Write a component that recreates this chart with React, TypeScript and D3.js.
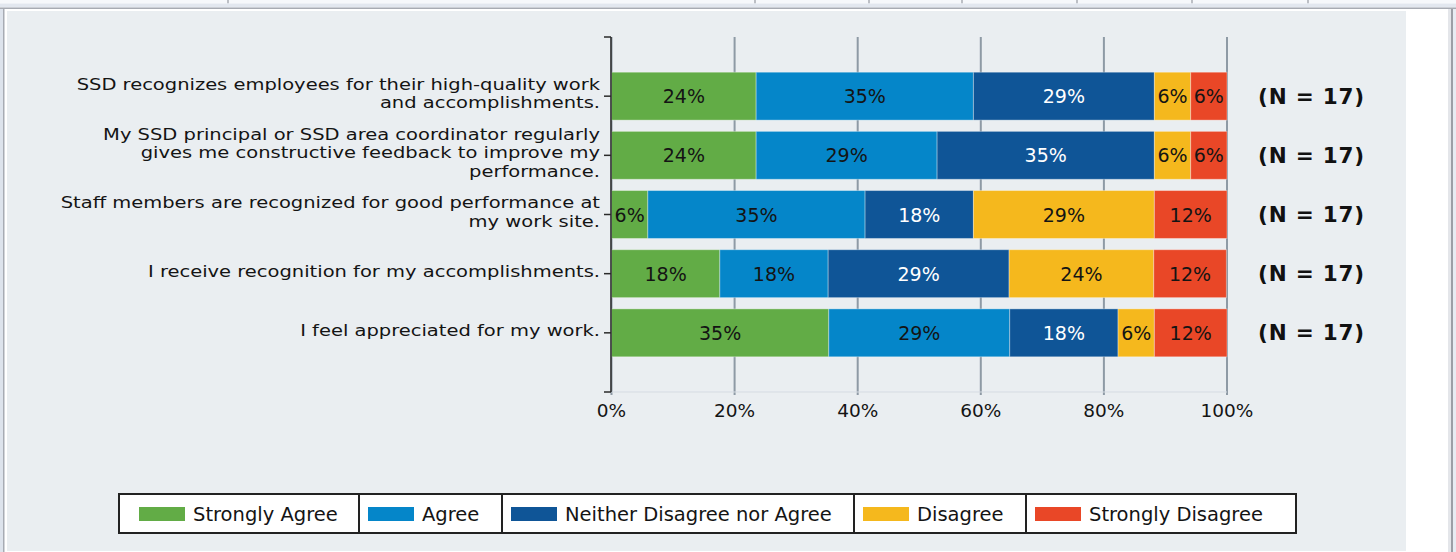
import React from 'react';
import * as d3 from 'd3';

// ---------- data ----------
const categories = [
  'SSD recognizes employees for their high-quality work\nand accomplishments.',
  'My SSD principal or SSD area coordinator regularly\ngives me constructive feedback to improve my\nperformance.',
  'Staff members are recognized for good performance at\nmy work site.',
  'I receive recognition for my accomplishments.',
  'I feel appreciated for my work.',
];
const seriesNames = ['Strongly Agree', 'Agree', 'Neither Disagree nor Agree', 'Disagree', 'Strongly Disagree'];
const stronglyAgree = [23.5, 23.5, 5.9, 17.6, 35.3];
const agree = [35.3, 29.4, 35.3, 17.6, 29.4];
const neither = [29.4, 35.3, 17.6, 29.4, 17.6];
const disagree = [5.9, 5.9, 29.4, 23.5, 5.9];
const stronglyDisagree = [5.9, 5.9, 11.8, 11.8, 11.8];
const respondents = [17, 17, 17, 17, 17];
const xTicks = [0, 20, 40, 60, 80, 100];

// ---------- styles ----------
const seriesColors = ['#62AC46', '#0586C9', '#0F5597', '#F5B81D', '#E94727'];
const labelColors = ['#141414', '#141414', '#FFFFFF', '#141414', '#141414'];
const FONT = '"DejaVu Sans", Verdana, sans-serif';
const legendEdges = [119, 359, 502, 854, 1026, 1296];
const headerDividers = [228, 755, 869, 962, 1077, 1192, 1308];

export default function App() {
  const W = 1456;
  const H = 552;
  const seriesValues = [stronglyAgree, agree, neither, disagree, stronglyDisagree];

  const x = d3.scaleLinear().domain([0, 100]).range([611.5, 1227]);
  const y = d3
    .scaleBand<string>()
    .domain(categories.map((_, i) => String(i)))
    .range([37, 392])
    .paddingInner(0.19)
    .paddingOuter(0.595);

  const rows = categories.map((_, i) => {
    const r: any = { key: String(i) };
    seriesNames.forEach((s, j) => (r[s] = seriesValues[j][i]));
    return r;
  });
  const stacked = d3.stack<any>().keys(seriesNames)(rows);

  const axisTop = 37;
  const axisBottom = 392;
  const lineH = 18.3;
  const catFont = 15.6;
  const catStretch = 19.5 / 15.6;

  return (
    <div style={{ position: 'absolute', left: 0, top: 0 }}>
      <svg width={W} height={H} style={{ display: 'block', fontFamily: FONT }}>
        {/* window chrome */}
        <rect x={0} y={0} width={W} height={H} fill="#FFFFFF" />
        <rect x={0} y={0} width={W} height={3.5} fill="#F6F8FB" />
        {headerDividers.map((d) => (
          <line key={d} x1={d} x2={d} y1={0} y2={3.5} stroke="#A8ACB3" strokeWidth={1.5} />
        ))}
        <rect x={0} y={3.5} width={W} height={4} fill="#E2E7EF" />
        <rect x={0} y={7.5} width={W} height={1.5} fill="#A7ABB3" />
        <rect x={0} y={9} width={3} height={H} fill="#DDE3EC" />
        <rect x={3} y={9} width={1.5} height={H} fill="#A7ABB3" />
        <rect x={1448} y={9} width={3} height={H} fill="#E4E6EA" />
        <rect x={1451} y={9} width={2} height={H} fill="#9C9FA6" />
        <rect x={1453} y={9} width={3} height={H} fill="#E8ECF2" />
        {/* chart panel */}
        <rect x={7} y={11} width={1399} height={540} fill="#EAEEF1" />

        {/* gridlines */}
        {xTicks.map((t) => (
          <line
            key={'g' + t}
            x1={x(t)}
            x2={x(t)}
            y1={axisTop}
            y2={axisBottom + 3}
            stroke="#8E9AA5"
            strokeWidth={2}
          />
        ))}
        <line x1={x(0)} x2={x(100)} y1={axisBottom} y2={axisBottom} stroke="#D5DBE2" strokeWidth={1} />

        {/* bars */}
        {stacked.map((layer, j) => (
          <g key={seriesNames[j]}>
            {layer.map((d: any, i: number) => {
              const x0 = x(d[0]);
              const x1 = x(d[1]);
              const yy = y(String(i))!;
              const bw = y.bandwidth();
              const v = seriesValues[j][i];
              return (
                <g key={i}>
                  <rect
                    x={x0}
                    y={yy}
                    width={x1 - x0}
                    height={bw}
                    fill={seriesColors[j]}
                    stroke="rgba(255,255,255,0.35)"
                    strokeWidth={1}
                  />
                  <text
                    x={(x0 + x1) / 2}
                    y={yy + bw / 2 + 7}
                    textAnchor="middle"
                    fontSize={19}
                    fill={labelColors[j]}
                  >
                    {Math.round(v) + '%'}
                  </text>
                </g>
              );
            })}
          </g>
        ))}

        {/* y axis */}
        <line x1={611} x2={611} y1={axisTop} y2={axisBottom} stroke="#2A2A2A" strokeWidth={1.5} />
        <line x1={604} x2={611} y1={axisTop} y2={axisTop} stroke="#2A2A2A" strokeWidth={1.5} />
        <line x1={604} x2={611} y1={axisBottom} y2={axisBottom} stroke="#2A2A2A" strokeWidth={1.5} />
        {categories.map((c, i) => {
          const cy = y(String(i))! + y.bandwidth() / 2;
          const lines = c.split('\n');
          const y0 = cy - ((lines.length - 1) / 2) * lineH + 3;
          return (
            <g key={'c' + i}>
              <line x1={604} x2={611} y1={cy} y2={cy} stroke="#2A2A2A" strokeWidth={1.5} />
              <g transform={`translate(600,${y0}) scale(${catStretch},1)`}>
                <text x={0} y={0} textAnchor="end" fontSize={catFont} fill="#141414">
                  {lines.map((ln, k) => (
                    <tspan key={k} x={0} dy={k === 0 ? 0 : lineH}>
                      {ln}
                    </tspan>
                  ))}
                </text>
              </g>
              <text x={1258} y={cy + 7.5} fontSize={21.5} fontWeight="bold" fill="#111" letterSpacing={0.8}>
                {'(N = ' + respondents[i] + ')'}
              </text>
            </g>
          );
        })}

        {/* x tick labels */}
        {xTicks.map((t) => (
          <text key={'t' + t} x={x(t)} y={416.5} textAnchor="middle" fontSize={18.5} fill="#141414">
            {t + '%'}
          </text>
        ))}

        {/* legend */}
        {seriesNames.map((s, j) => {
          const left = legendEdges[j];
          const right = legendEdges[j + 1];
          const pad = j === 0 ? 20 : 9;
          return (
            <g key={'l' + s}>
              <rect x={left} y={494} width={right - left} height={39} fill="#FFFFFF" stroke="#222" strokeWidth={2} />
              <rect x={left + pad} y={507} width={46} height={14} fill={seriesColors[j]} />
              <text x={left + pad + 54} y={520.5} fontSize={19.5} fill="#141414">
                {s}
              </text>
            </g>
          );
        })}
      </svg>
    </div>
  );
}
